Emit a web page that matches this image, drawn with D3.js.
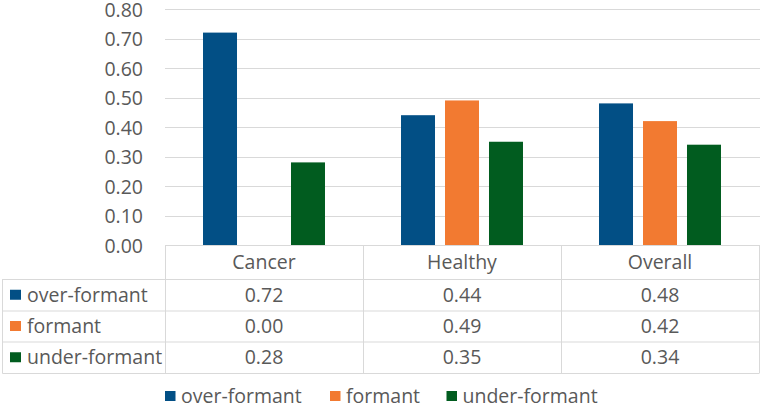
<!DOCTYPE html>
<html><head><meta charset="utf-8">
<script src="https://cdn.jsdelivr.net/npm/d3@7"></script>
<style>body{margin:0;background:#fff}svg{display:block}text{font-family:"Open Sans",sans-serif;fill:#595959}</style>
</head><body><svg id="c" width="762" height="406"></svg>
<script>
const categories = ["Cancer", "Healthy", "Overall"];
const series = ["over-formant", "formant", "under-formant"];
const overFormant = [0.72, 0.44, 0.48];
const formant = [0.00, 0.49, 0.42];
const underFormant = [0.28, 0.35, 0.34];
const yTicks = [0, 0.1, 0.2, 0.3, 0.4, 0.5, 0.6, 0.7, 0.8];
const colors = ["#024F85", "#F27A31", "#015C1F"];
const values = [overFormant, formant, underFormant];

(function(){
const svg = d3.select("#c");
const FS = "19.5px";
const pLeft = 165, pRight = 759, pTop = 9, pBottom = 245;
const x = d3.scaleBand().domain(categories).range([pLeft, pRight]);
const xs = d3.scaleBand().domain(series).range([0, x.bandwidth()]).paddingInner(10/44).paddingOuter(0.864);
const y = d3.scaleLinear().domain([0, 0.8]).range([pBottom, pTop]);

// gridlines
svg.append("g").selectAll("line").data(yTicks).join("line")
  .attr("x1", pLeft).attr("x2", pRight+1)
  .attr("y1", d => Math.round(y(d)) + 0.5).attr("y2", d => Math.round(y(d)) + 0.5)
  .attr("stroke", "#D9D9D9").attr("stroke-width", 1);

// y axis labels
const yAxis = d3.axisLeft(y).tickValues(yTicks).tickFormat(d3.format(".2f")).tickSize(0).tickPadding(0);
const ga = svg.append("g").attr("transform", `translate(143,0)`).call(yAxis);
ga.select(".domain").remove();
ga.selectAll("text").style("font-size", FS).attr("fill", "#595959").attr("dy", "0.36em").style("font-family", '"Open Sans",sans-serif');

// bars
series.forEach((s, si) => {
  svg.append("g").selectAll("rect").data(categories).join("rect")
    .attr("x", (c) => x(c) + xs(s))
    .attr("width", xs.bandwidth())
    .attr("y", (c, i) => y(values[si][i]))
    .attr("height", (c, i) => pBottom - y(values[si][i]))
    .attr("fill", colors[si]);
});

// data table
const rowY = [245, 279, 310.5, 341.5, 373];
const tableLeft = 2.5;
const g = svg.append("g").attr("stroke", "#D9D9D9").attr("stroke-width", 1).attr("fill", "none");
g.append("line").attr("x1", pLeft).attr("x2", pRight).attr("y1", rowY[0]+0.5).attr("y2", rowY[0]+0.5);
for (let r = 1; r < rowY.length; r++) {
  g.append("line").attr("x1", tableLeft).attr("x2", pRight).attr("y1", rowY[r]+0.5).attr("y2", rowY[r]+0.5);
}
g.append("line").attr("x1", tableLeft).attr("x2", tableLeft).attr("y1", rowY[1]).attr("y2", rowY[4]+0.5);
categories.forEach(c => {
  g.append("line").attr("x1", Math.round(x(c))+0.5).attr("x2", Math.round(x(c))+0.5).attr("y1", rowY[0]).attr("y2", rowY[4]+0.5);
});
g.append("line").attr("x1", pRight+0.5).attr("x2", pRight+0.5).attr("y1", rowY[0]).attr("y2", rowY[4]+0.5);

// header text
svg.append("g").selectAll("text").data(categories).join("text")
  .attr("x", c => x(c) + x.bandwidth()/2).attr("y", (rowY[0]+rowY[1])/2)
  .attr("dy", "0.36em").attr("text-anchor", "middle").style("font-size", FS).text(c => c);

// rows
series.forEach((s, si) => {
  const cy = (rowY[si+1] + rowY[si+2]) / 2;
  svg.append("rect").attr("x", 10).attr("y", cy - 5).attr("width", 11).attr("height", 10).attr("fill", colors[si]);
  svg.append("text").attr("x", 27).attr("y", cy).attr("dy", "0.36em").style("font-size", FS).text(s);
  svg.append("g").selectAll("text").data(categories).join("text")
    .attr("x", c => x(c) + x.bandwidth()/2).attr("y", cy).attr("dy", "0.36em")
    .attr("text-anchor", "middle").style("font-size", FS)
    .text((c, i) => d3.format(".2f")(values[si][i]));
});

// bottom legend
const legX = [165, 330, 446.5];
series.forEach((s, si) => {
  svg.append("rect").attr("x", legX[si]).attr("y", 391).attr("width", 10.5).attr("height", 10).attr("fill", colors[si]);
  svg.append("text").attr("x", legX[si] + 16).attr("y", 396).attr("dy", "0.36em").style("font-size", FS).text(s);
});
})();
</script></body></html>
